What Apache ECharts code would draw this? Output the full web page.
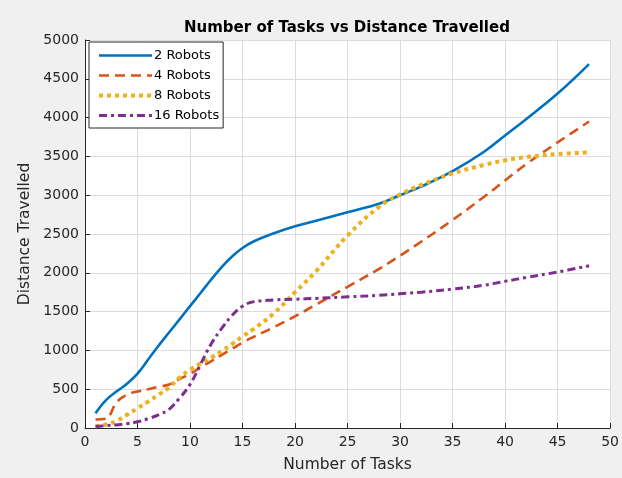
<!DOCTYPE html>
<html>
<head>
<meta charset="utf-8">
<script src="https://cdn.jsdelivr.net/npm/echarts@6/dist/echarts.min.js"></script>
<style>
  html, body { margin: 0; padding: 0; background: #f0f0f0; }
  #main { width: 622px; height: 478px; }
</style>
</head>
<body>
<div id="main"></div>
<script>
// number of tasks
var tasks = [1,2,3,4,5,6,7,8,9,10,11,12,13,14,15,16,18,20,22,25,28,30,32,35,38,40,42,45,48];
// distance travelled per robot count
var robots2  = [190,360,470,570,700,880,1060,1230,1400,1570,1740,1910,2070,2210,2320,2400,2510,2600,2670,2780,2890,3000,3110,3310,3560,3770,3980,4310,4690];
var robots4  = [110,120,330,430,470,500,530,560,630,700,780,860,940,1020,1100,1170,1300,1440,1590,1820,2050,2220,2400,2680,2980,3190,3400,3680,3950];
var robots8  = [20,45,90,170,255,340,430,520,650,750,830,905,990,1080,1180,1270,1480,1750,2020,2480,2850,3010,3130,3280,3390,3450,3490,3530,3550];
var robots16 = [20,30,40,55,80,120,170,240,385,560,820,1080,1280,1450,1570,1625,1650,1660,1670,1690,1710,1730,1750,1790,1840,1890,1940,2010,2090];

var xTicks = { min: 0, max: 50, step: 5 };
var yTicks = { min: 0, max: 5000, step: 500 };

function pairs(ys) {
  var out = [];
  for (var i = 0; i < tasks.length; i++) out.push([tasks[i], ys[i]]);
  return out;
}

var chart = echarts.init(document.getElementById('main'));
var font = 'DejaVu Sans, sans-serif';

var option = {
  backgroundColor: '#f0f0f0',
  animation: false,
  title: {
    text: 'Number of Tasks vs Distance Travelled',
    left: 179,
    top: 16,
    textStyle: { fontFamily: font, fontSize: 15, fontWeight: 'bold', color: '#000' }
  },
  legend: {
    orient: 'vertical',
    left: 89,
    top: 42,
    padding: [7, 4, 6, 8],
    itemGap: 7,
    itemWidth: 53,
    itemHeight: 13,
    backgroundColor: '#fff',
    borderColor: '#262626',
    borderWidth: 1,
    borderRadius: 0,
    itemStyle: { opacity: 0 },
    lineStyle: { width: 'inherit', type: 'inherit' },
    textStyle: { fontFamily: font, fontSize: 13, color: '#000', padding: [0, 0, 0, -3] },
    data: ['2 Robots', '4 Robots', '8 Robots', '16 Robots']
  },
  grid: {
    left: 85,
    right: 9,
    top: 40,
    bottom: 48.5,
    show: true,
    backgroundColor: '#fff',
    borderWidth: 0
  },
  xAxis: {
    type: 'value',
    min: xTicks.min,
    max: xTicks.max,
    interval: xTicks.step,
    name: 'Number of Tasks',
    nameLocation: 'middle',
    nameGap: 29,
    nameTextStyle: { fontFamily: font, fontSize: 15.5, color: '#262626' },
    axisLine: { lineStyle: { color: '#262626', width: 1 } },
    axisTick: { inside: true, length: 5, lineStyle: { color: '#262626' } },
    axisLabel: { fontFamily: font, fontSize: 14, color: '#262626', margin: 7 },
    splitLine: { show: true, lineStyle: { color: '#dcdcdc', width: 1 } }
  },
  yAxis: {
    type: 'value',
    min: yTicks.min,
    max: yTicks.max,
    interval: yTicks.step,
    name: 'Distance Travelled',
    nameLocation: 'middle',
    nameGap: 49,
    nameTextStyle: { fontFamily: font, fontSize: 15.5, color: '#262626' },
    axisLine: { show: true, lineStyle: { color: '#262626', width: 1 } },
    axisTick: { show: true, inside: true, length: 5, lineStyle: { color: '#262626' } },
    axisLabel: {
      fontFamily: font, fontSize: 14, color: '#262626', margin: 6,
      formatter: function (v) { return String(v); }
    },
    splitLine: { show: true, lineStyle: { color: '#dcdcdc', width: 1 } }
  },
  series: [
    {
      name: '2 Robots', type: 'line', data: pairs(robots2), smooth: 0.4,
      symbol: 'none', color: '#0072BD',
      lineStyle: { width: 2.6, type: 'solid' }
    },
    {
      name: '4 Robots', type: 'line', data: pairs(robots4), smooth: 0.4,
      symbol: 'none', color: '#D95319',
      lineStyle: { width: 2.6, type: [10, 6] }
    },
    {
      name: '8 Robots', type: 'line', data: pairs(robots8), smooth: 0.4,
      symbol: 'none', color: '#EDB120',
      lineStyle: { width: 4, type: [4, 4] }
    },
    {
      name: '16 Robots', type: 'line', data: pairs(robots16), smooth: 0.4,
      symbol: 'none', color: '#7E2F8E',
      lineStyle: { width: 3, type: [8, 4, 3, 4] }
    }
  ]
};

chart.setOption(option);
</script>
</body>
</html>
